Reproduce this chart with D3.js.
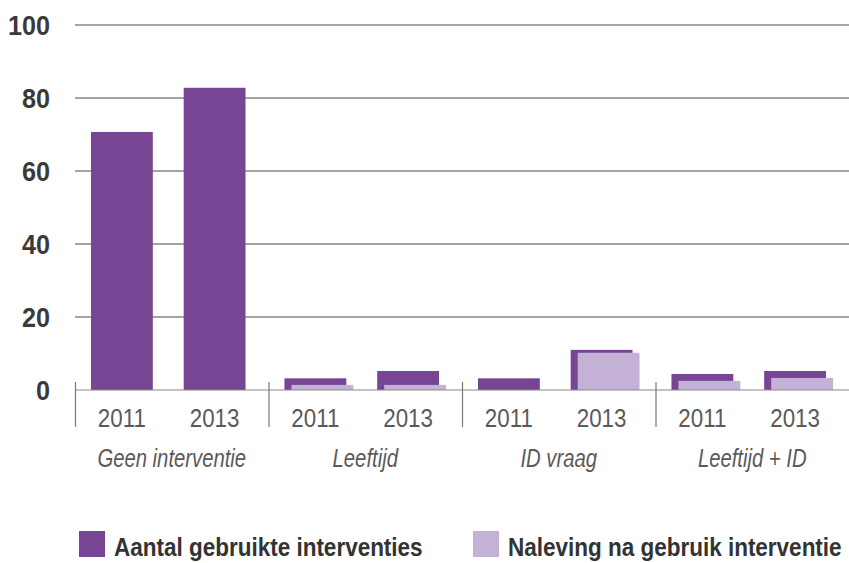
<!DOCTYPE html>
<html lang="nl">
<head>
<meta charset="utf-8">
<title>Interventies</title>
<script src="https://d3js.org/d3.v7.min.js"></script>
<style>
  body { margin: 0; background: #fff; }
  svg { display: block; }
  text { font-family: "Liberation Sans", Arial, sans-serif; }
</style>
</head>
<body>
<div id="chart"></div>
<script>
// Data
const groups = ["Geen interventie", "Leeftijd", "ID vraag", "Leeftijd + ID"];
const years = ["2011", "2013"];
const seriesNames = ["Aantal gebruikte interventies", "Naleving na gebruik interventie"];
const aantal = [
  [70.7, 82.8],
  [3.2, 5.2],
  [3.2, 11.0],
  [4.4, 5.2]
];
const naleving = [
  [0, 0],
  [1.4, 1.4],
  [0, 10.2],
  [2.5, 3.3]
];
const yTicks = [0, 20, 40, 60, 80, 100];

const colors = ["#774594", "#c3b1d6"];
const W = 849, H = 563;
const margin = { top: 25, right: 0, bottom: 173, left: 75 };

const svg = d3.select("#chart").append("svg")
  .attr("width", W)
  .attr("height", H);

// squeeze text horizontally, the original uses a condensed face
function condense(sel, factor) {
  sel.each(function () {
    const t = d3.select(this);
    const x = +t.attr("x") || 0, yy = +t.attr("y") || 0;
    t.attr("x", 0).attr("y", 0)
      .attr("transform", `translate(${x},${yy}) scale(${factor},1)`);
  });
}

// Scales
const y = d3.scaleLinear().domain([0, 100]).range([H - margin.bottom, margin.top]);
const xGroup = d3.scaleBand().domain(groups).range([margin.left, W - margin.right]);
const xYear = d3.scaleBand().domain(years).range([0, xGroup.bandwidth()])
  .paddingInner(0.333).paddingOuter(0.21).align(0.41);
const offset = 7;

// Gridlines
svg.append("g")
  .selectAll("line")
  .data(yTicks.filter(d => d > 0))
  .join("line")
  .attr("x1", margin.left)
  .attr("x2", W - margin.right)
  .attr("y1", d => y(d))
  .attr("y2", d => y(d))
  .attr("stroke", "#4a4a4a")
  .attr("stroke-width", 1.2);

// Y labels
svg.append("g")
  .selectAll("text")
  .data(yTicks)
  .join("text")
  .attr("x", 50)
  .attr("y", d => y(d) + 10)
  .attr("text-anchor", "end")
  .attr("font-weight", "bold")
  .attr("font-size", "28px")
  .attr("fill", "#3a3a3a")
  .text(d => d)
  .call(condense, 0.9);

// Bars
const rows = [];
groups.forEach((g, gi) => {
  years.forEach((yr, yi) => {
    rows.push({ g, yr, a: aantal[gi][yi], n: naleving[gi][yi] });
  });
});

svg.append("g")
  .selectAll("rect")
  .data(rows)
  .join("rect")
  .attr("x", d => xGroup(d.g) + xYear(d.yr))
  .attr("y", d => y(d.a))
  .attr("width", xYear.bandwidth())
  .attr("height", d => y(0) - y(d.a))
  .attr("fill", colors[0]);

svg.append("g")
  .selectAll("rect")
  .data(rows.filter(d => d.n > 0))
  .join("rect")
  .attr("x", d => xGroup(d.g) + xYear(d.yr) + offset)
  .attr("y", d => y(d.n))
  .attr("width", xYear.bandwidth())
  .attr("height", d => y(0) - y(d.n))
  .attr("fill", colors[1]);

// Baseline
svg.append("line")
  .attr("x1", margin.left)
  .attr("x2", W - margin.right)
  .attr("y1", y(0))
  .attr("y2", y(0))
  .attr("stroke", "#8a8a8a")
  .attr("stroke-width", 1.2);

// Group separators
svg.append("g")
  .selectAll("line")
  .data(groups)
  .join("line")
  .attr("x1", d => xGroup(d) + 0.5)
  .attr("x2", d => xGroup(d) + 0.5)
  .attr("y1", y(0) - 8)
  .attr("y2", y(0) + 37)
  .attr("stroke", "#777")
  .attr("stroke-width", 1.2);

// Year labels
svg.append("g")
  .selectAll("text")
  .data(rows)
  .join("text")
  .attr("x", d => xGroup(d.g) + xYear(d.yr) + xYear.bandwidth() / 2)
  .attr("y", y(0) + 37)
  .attr("text-anchor", "middle")
  .attr("font-size", "26px")
  .attr("fill", "#5a5a5a")
  .text(d => d.yr)
  .call(condense, 0.86);

// Group labels
svg.append("g")
  .selectAll("text")
  .data(groups)
  .join("text")
  .attr("x", d => xGroup(d) + xGroup.bandwidth() / 2)
  .attr("y", y(0) + 77)
  .attr("text-anchor", "middle")
  .attr("font-style", "italic")
  .attr("font-size", "26px")
  .attr("fill", "#5a5a5a")
  .text(d => d)
  .call(condense, 0.78);

// Legend
const legendX = [79, 473];
const legend = svg.append("g")
  .selectAll("g")
  .data(seriesNames)
  .join("g")
  .attr("transform", (d, i) => `translate(${legendX[i]},531)`);

legend.append("rect")
  .attr("width", 26)
  .attr("height", 26)
  .attr("fill", (d, i) => colors[i]);

legend.append("text")
  .attr("x", 35)
  .attr("y", 25)
  .attr("font-weight", "bold")
  .attr("font-size", "25px")
  .attr("fill", "#333")
  .text(d => d)
  .call(condense, 0.9);
</script>
</body>
</html>
